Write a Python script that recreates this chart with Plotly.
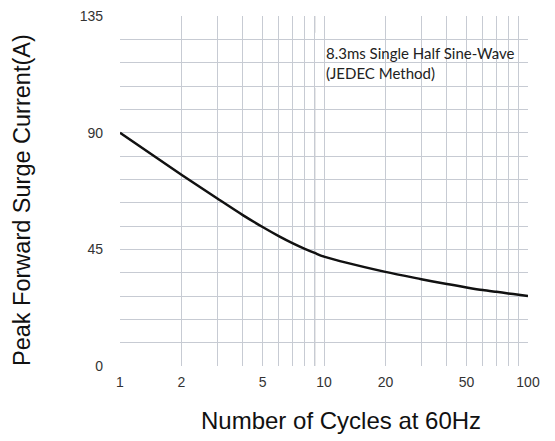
import plotly.graph_objects as go

# Data
cycles = [1, 2, 3, 4, 5, 6, 7, 8, 9, 10, 20, 30, 40, 50, 60, 70, 80, 90, 100]
surge_current = [90, 73.8, 64.6, 58.2, 53.6, 50.1, 47.4, 45.3, 43.6, 42.2,
                 36.3, 33.5, 31.6, 30.3, 29.3, 28.6, 28.0, 27.5, 27.0]

x_tickvals = [1, 2, 3, 4, 5, 6, 7, 8, 9, 10, 20, 30, 40, 50, 60, 70, 80, 90, 100]
x_ticktext = ["1", "2", "", "", "5", "", "", "", "", "10", "20", "", "", "50", "", "", "", "", "100"]
y_tickvals = list(range(0, 136, 9))
y_ticktext = [str(v) if v % 45 == 0 else "" for v in y_tickvals]

x_title = "Number of Cycles at 60Hz"
y_title = "Peak Forward Surge Current(A)"
note = "8.3ms Single Half Sine-Wave<br>(JEDEC Method)"

grid_color = "#c7cbd3"
tick_font = dict(family="Liberation Sans, Arial, sans-serif", size=14, color="#333333")

# page body adds an offset; compensate so the plot area lands where the reference has it
L, T, PW, PH = 112, 8, 408, 350

fig = go.Figure()
fig.add_trace(go.Scatter(
    x=cycles, y=surge_current, mode="lines",
    line=dict(color="#111111", width=2.5, shape="spline", smoothing=0.8),
    hoverinfo="x+y", showlegend=False,
))

fig.update_layout(
    width=555, height=441,
    margin=dict(l=L, r=555 - L - PW, t=T, b=441 - T - PH, autoexpand=False),
    paper_bgcolor="white", plot_bgcolor="white",
    xaxis=dict(
        type="log", range=[0, 2], automargin=False,
        tickmode="array", tickvals=x_tickvals, ticktext=x_ticktext,
        showgrid=True, gridcolor=grid_color, gridwidth=1,
        zeroline=False, showline=False, ticks="",
        tickfont=tick_font, ticklabelstandoff=6, ticklabeloverflow="allow",
    ),
    yaxis=dict(
        range=[0, 135], automargin=False,
        tickmode="array", tickvals=y_tickvals, ticktext=y_ticktext,
        showgrid=True, gridcolor=grid_color, gridwidth=1,
        zeroline=False, showline=False, ticks="",
        tickfont=tick_font, ticklabelstandoff=16, ticklabeloverflow="allow",
    ),
    shapes=[
        # darker vertical line present in the reference
        dict(type="line", xref="x", yref="paper", x0=9, x1=9, y0=0, y1=1,
             line=dict(color="#6b6f76", width=1), layer="below"),
        # white box behind the note
        dict(type="rect", xref="paper", yref="paper", x0=0.473, x1=0.997,
             y0=0.794, y1=0.952, fillcolor="white", line=dict(width=0), layer="below"),
    ],
    annotations=[
        dict(text=note, xref="paper", yref="paper", x=0.5, y=0.866,
             xanchor="left", yanchor="middle", align="left", showarrow=False,
             font=dict(family="Lato, Open Sans, sans-serif", size=15, color="#222222")),
        dict(text=x_title, xref="paper", yref="paper",
             x=(341 - 120) / PW, y=(366 - 421) / PH,
             xanchor="center", yanchor="middle", showarrow=False,
             font=dict(family="Liberation Sans, Arial, sans-serif", size=24, color="#111111")),
        dict(text=y_title, xref="paper", yref="paper", textangle=-90,
             x=(22 - 120) / PW, y=(366 - 200) / PH,
             xanchor="center", yanchor="middle", showarrow=False,
             font=dict(family="Liberation Sans, Arial, sans-serif", size=23.5, color="#111111")),
    ],
)

fig.write_html("out.html")
